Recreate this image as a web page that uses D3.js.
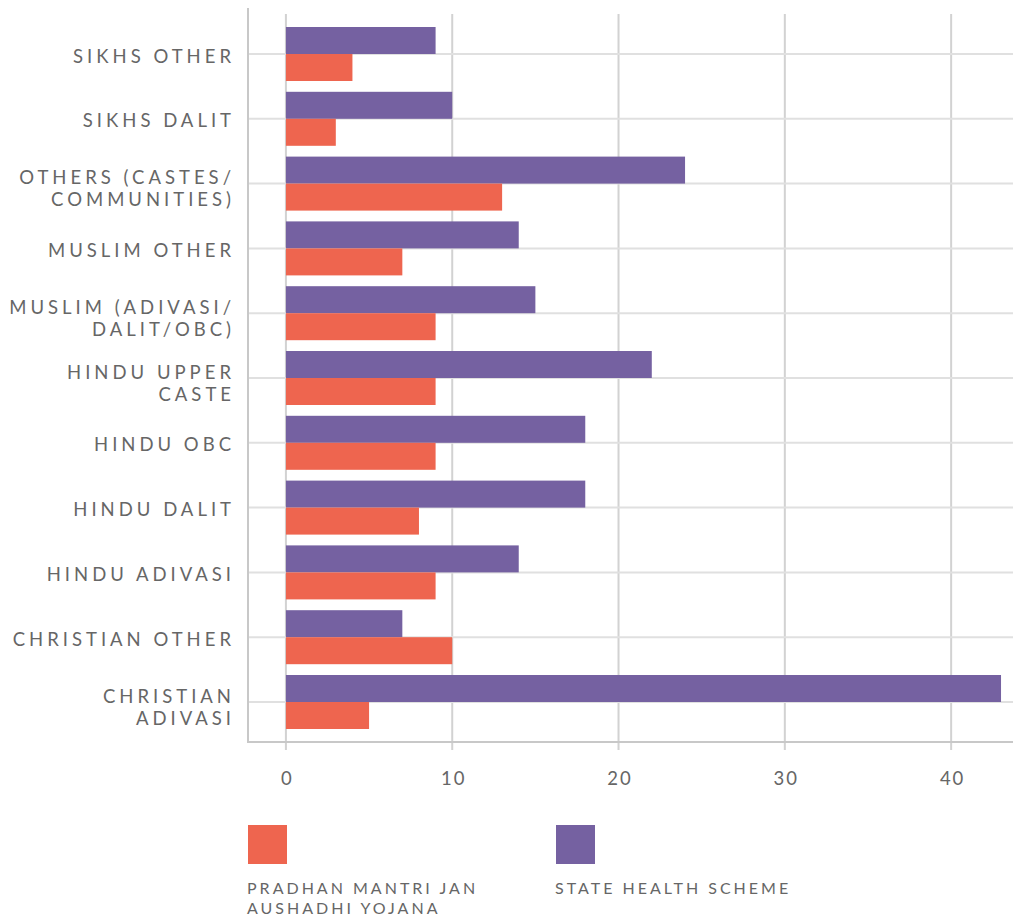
<!DOCTYPE html>
<html>
<head>
<meta charset="utf-8">
<script src="https://cdn.jsdelivr.net/npm/d3@7"></script>
<style>
  html, body { margin: 0; padding: 0; background: #fff; }
  svg { display: block; }
  text { font-family: Lato, "Noto Sans", sans-serif; fill: #666; }
</style>
</head>
<body>
<svg id="chart" width="1013" height="916"></svg>
<script>
const categories = [
  ["SIKHS OTHER"],
  ["SIKHS DALIT"],
  ["OTHERS (CASTES/", "COMMUNITIES)"],
  ["MUSLIM OTHER"],
  ["MUSLIM (ADIVASI/", "DALIT/OBC)"],
  ["HINDU UPPER", "CASTE"],
  ["HINDU OBC"],
  ["HINDU DALIT"],
  ["HINDU ADIVASI"],
  ["CHRISTIAN OTHER"],
  ["CHRISTIAN", "ADIVASI"]
];
const stateHealthScheme = [9, 10, 24, 14, 15, 22, 18, 18, 14, 7, 43];
const pmJanAushadhi     = [4, 3, 13, 7, 9, 9, 9, 8, 9, 10, 5];
const xTicks = [0, 10, 20, 30, 40];
const legendLabels = [["PRADHAN MANTRI JAN", "AUSHADHI YOJANA"], ["STATE HEALTH SCHEME"]];
const colors = { state: "#7561A1", pm: "#EE654F" };

(function () {
const svg = d3.select("#chart");
const plotLeft = 248, plotRight = 1013, plotTop = 21.6, plotBottom = 734.4, axisY = 742;

const x = d3.scaleLinear().domain([-2.28, 43.72]).range([plotLeft, plotRight]);
const keys = categories.map((c, i) => i);
const y = d3.scaleBand().domain(keys).range([plotTop, plotBottom]).paddingInner(0).paddingOuter(0);
const inner = d3.scaleBand().domain(["state", "pm"]).range([5.4, y.bandwidth() - 5.4]);

// vertical gridlines + ticks
svg.append("g").selectAll("line").data(xTicks).join("line")
  .attr("x1", d => x(d)).attr("x2", d => x(d))
  .attr("y1", 14).attr("y2", 750)
  .attr("stroke", "#d2d2d2").attr("stroke-width", 2);

// horizontal gridlines
svg.append("g").selectAll("line").data(keys).join("line")
  .attr("x1", plotLeft).attr("x2", plotRight)
  .attr("y1", d => y(d) + y.bandwidth() / 2).attr("y2", d => y(d) + y.bandwidth() / 2)
  .attr("stroke", "#e0e0e0").attr("stroke-width", 2);

// left border & bottom axis line
svg.append("line").attr("x1", plotLeft).attr("x2", plotLeft).attr("y1", 8).attr("y2", axisY + 1)
  .attr("stroke", "#c8c8c8").attr("stroke-width", 2);
svg.append("line").attr("x1", plotLeft - 1).attr("x2", plotRight).attr("y1", axisY).attr("y2", axisY)
  .attr("stroke", "#c8c8c8").attr("stroke-width", 2);

// bars
const bars = svg.append("g");
bars.selectAll("rect.state").data(keys).join("rect").attr("class", "state")
  .attr("x", x(0)).attr("y", d => y(d) + inner("state"))
  .attr("width", d => x(stateHealthScheme[d]) - x(0)).attr("height", inner.bandwidth())
  .attr("fill", colors.state);
bars.selectAll("rect.pm").data(keys).join("rect").attr("class", "pm")
  .attr("x", x(0)).attr("y", d => y(d) + inner("pm"))
  .attr("width", d => x(pmJanAushadhi[d]) - x(0)).attr("height", inner.bandwidth())
  .attr("fill", colors.pm);

// category labels
const fs = 18.5, capHalf = fs * 0.72 / 2, lh = 22.3;
const catG = svg.append("g");
keys.forEach(i => {
  const lines = categories[i];
  const cy = y(i) + y.bandwidth() / 2;
  const blockCenter = lines.length > 1 ? cy + 5 : cy + 2;
  const t = catG.append("text")
    .attr("text-anchor", "end")
    .attr("font-size", fs)
    .attr("letter-spacing", 4.0);
  lines.forEach((ln, j) => {
    t.append("tspan").attr("x", 235)
      .attr("y", blockCenter + capHalf + (j - (lines.length - 1) / 2) * lh)
      .text(ln);
  });
});

// x tick labels
svg.append("g").selectAll("text").data(xTicks).join("text")
  .attr("x", d => x(d) + 1.5).attr("y", 785)
  .attr("text-anchor", "middle")
  .attr("font-size", 18.5).attr("letter-spacing", 2)
  .text(d => d);

// legend
const legendItems = [
  { color: colors.pm, x: 248, lines: legendLabels[0] },
  { color: colors.state, x: 556, lines: legendLabels[1] }
];
legendItems.forEach(it => {
  svg.append("rect").attr("x", it.x).attr("y", 825).attr("width", 39).attr("height", 39).attr("fill", it.color);
  it.lines.forEach((ln, j) => {
    svg.append("text").attr("font-size", 16).attr("letter-spacing", 3.0)
      .attr("x", it.x - 1).attr("y", 894 + j * 19.5).text(ln);
  });
});
})();
</script>
</body>
</html>
